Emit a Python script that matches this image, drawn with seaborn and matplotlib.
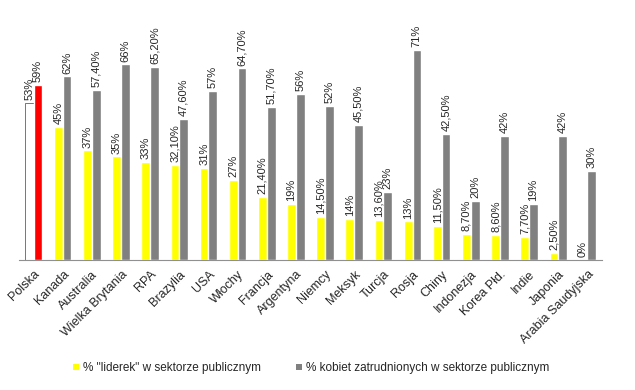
import numpy as np
import pandas as pd
import matplotlib
matplotlib.use('Agg')
import matplotlib.pyplot as plt
from matplotlib.patches import Patch
import seaborn as sns

# data
countries = ['Polska', 'Kanada', 'Australia', 'Wielka Brytania', 'RPA', 'Brazylia',
             'USA', 'Włochy', 'Francja', 'Argentyna', 'Niemcy', 'Meksyk', 'Turcja',
             'Rosja', 'Chiny', 'Indonezja', 'Korea Płd.', 'Indie', 'Japonia',
             'Arabia Saudyjska']
leaders = [53, 45, 37, 35, 33, 32.1, 31, 27, 21.4, 19, 14.5, 14, 13.6, 13, 11.5,
           8.7, 8.6, 7.7, 2.5, 0]
employed = [59, 62, 57.4, 66, 65.2, 47.6, 57, 64.7, 51.7, 56, 52, 45.5, 23, 71,
            42.5, 20, 42, 19, 42, 30]
leaders_lbl = ['53%', '45%', '37%', '35%', '33%', '32,10%', '31%', '27%', '21,40%',
               '19%', '14,50%', '14%', '13,60%', '13%', '11,50%', '8,70%', '8,60%',
               '7,70%', '2,50%', '0%']
employed_lbl = ['59%', '62%', '57,40%', '66%', '65,20%', '47,60%', '57%', '64,70%',
                '51,70%', '56%', '52%', '45,50%', '23%', '71%', '42,50%', '20%',
                '42%', '19%', '42%', '30%']
series = ['% "liderek" w sektorze publicznym',
          '% kobiet zatrudnionych w sektorze publicznym']

df = pd.DataFrame({
    'kraj': countries * 2,
    'wartosc': leaders + employed,
    'seria': [series[0]] * len(countries) + [series[1]] * len(countries),
})

sns.set_style('white')
plt.rcParams['font.family'] = ['Liberation Sans', 'DejaVu Sans']

fig = plt.figure(figsize=(6.35, 3.9), dpi=100)
ax = fig.add_axes([19 / 635, 130 / 390, 583 / 635, 237 / 390])

sns.barplot(data=df, x='kraj', y='wartosc', hue='seria', order=countries,
            hue_order=series, palette=['#FFFF00', '#808080'], width=0.6,
            saturation=1, ax=ax, legend=False)

# Polska highlighted
ax.containers[0][0].set_facecolor('white')
ax.containers[0][0].set_edgecolor('#606060')
ax.containers[0][0].set_linewidth(0.6)
ax.containers[1][0].set_facecolor('#FF0000')

ax.bar_label(ax.containers[0], labels=leaders_lbl, rotation=90, padding=2, fontsize=8)
ax.bar_label(ax.containers[1], labels=employed_lbl, rotation=90, padding=2, fontsize=8)

ax.set_xlim(-0.5, len(countries) - 0.5)
ax.set_ylim(0, 80)
ax.set_xlabel('')
ax.set_ylabel('')
ax.set_yticks([])
for s in ['top', 'right', 'left']:
    ax.spines[s].set_visible(False)
ax.spines['bottom'].set_color('#909090')
ax.spines['bottom'].set_linewidth(0.8)

ax.set_xticks(np.arange(len(countries)))
ax.set_xticklabels(countries, rotation=45, ha='right', rotation_mode='anchor',
                   fontsize=9)
ax.tick_params(axis='x', which='major', length=0, pad=6)
ax.set_xticks(np.arange(-0.5, len(countries), 2), minor=True)
ax.tick_params(axis='x', which='minor', length=4, color='#909090', direction='out')

handles = [Patch(facecolor='#FFFF00', edgecolor='none'),
           Patch(facecolor='#808080', edgecolor='none')]
fig.legend(handles, series, loc='center', bbox_to_anchor=(0.49, 0.056), ncol=2,
           frameon=False, fontsize=8.5, handlelength=0.5, handleheight=0.5,
           handletextpad=0.3, columnspacing=3.0)

fig.savefig('out.png', dpi=100)
